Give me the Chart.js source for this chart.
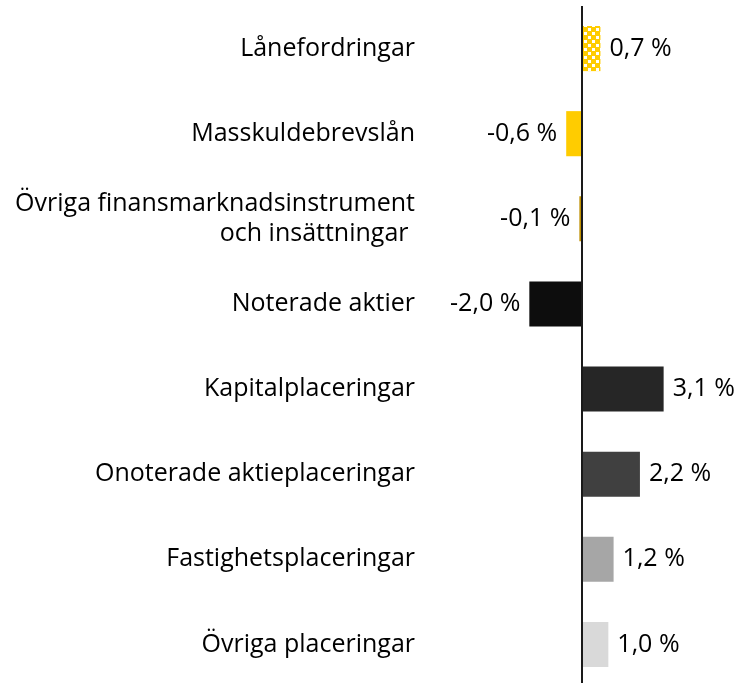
<!DOCTYPE html>
<html lang="sv">
<head>
    <meta charset="UTF-8">
    <title>Avkastning per placeringsslag</title>
    <script src="https://cdn.jsdelivr.net/npm/chart.js"></script>
    <style>
        html, body {
            margin: 0;
            padding: 0;
            background: #fff;
            overflow: hidden;
        }
        .wrap {
            position: relative;
            width: 740px;
            height: 688px;
        }
    </style>
</head>
<body>
    <div class="wrap">
        <canvas id="chart"></canvas>
    </div>
    <script>
// categories and values (percent)
const categories = [
    'Lånefordringar',
    'Masskuldebrevslån',
    ['Övriga finansmarknadsinstrument', 'och insättningar '],
    'Noterade aktier',
    'Kapitalplaceringar',
    'Onoterade aktieplaceringar',
    'Fastighetsplaceringar',
    'Övriga placeringar'
];
const values = [0.7, -0.6, -0.1, -2.0, 3.1, 2.2, 1.2, 1.0];
const colors = ['pattern', '#FFCC00', '#BF9000', '#0D0D0D', '#262626', '#404040', '#A6A6A6', '#D9D9D9'];

const FONT = '"Open Sans", Lato, sans-serif';
const FONT_SIZE = 25;

// yellow/white check for the first bar
function makePattern() {
    const c = document.createElement('canvas');
    c.width = 8;
    c.height = 8;
    const g = c.getContext('2d');
    g.fillStyle = '#FFCC00';
    g.fillRect(0, 0, 8, 8);
    g.fillStyle = '#ffffff';
    g.fillRect(0, 0, 3, 3);
    g.fillRect(4, 4, 3, 3);
    return document.getElementById('chart').getContext('2d').createPattern(c, 'repeat');
}
const pattern = makePattern();

// value labels next to each bar
const valueLabels = {
    id: 'valueLabels',
    afterDatasetsDraw(chart) {
        const ctx = chart.ctx;
        const meta = chart.getDatasetMeta(0);
        ctx.save();
        ctx.font = FONT_SIZE + 'px ' + FONT;
        ctx.fillStyle = '#000';
        ctx.textBaseline = 'middle';
        meta.data.forEach((bar, i) => {
            const v = values[i];
            const txt = v.toFixed(1).replace('.', ',') + ' %';
            if (v >= 0) {
                ctx.textAlign = 'left';
                ctx.fillText(txt, bar.x + 9, bar.y);
            } else {
                ctx.textAlign = 'right';
                ctx.fillText(txt, bar.x - 9, bar.y);
            }
        });
        ctx.restore();
    }
};

new Chart(document.getElementById('chart'), {
    type: 'bar',
    data: {
        labels: categories,
        datasets: [{
            data: values,
            backgroundColor: colors.map(c => c === 'pattern' ? pattern : c),
            borderWidth: 0,
            barPercentage: 0.53,
            categoryPercentage: 1
        }]
    },
    options: {
        indexAxis: 'y',
        responsive: true,
        maintainAspectRatio: false,
        animation: false,
        layout: { padding: { top: 6, bottom: 1, right: 0, left: 0 } },
        plugins: {
            legend: { display: false },
            tooltip: { enabled: false }
        },
        scales: {
            x: {
                min: -6,
                max: 6,
                ticks: { display: false, stepSize: 1 },
                border: { display: false },
                grid: {
                    drawTicks: false,
                    lineWidth: 2,
                    color: c => c.tick && c.tick.value === 0 ? '#1a1a1a' : 'rgba(0,0,0,0)'
                }
            },
            y: {
                border: { display: false },
                grid: { display: false, drawTicks: false },
                ticks: {
                    padding: 9,
                    color: '#000',
                    font: { family: FONT, size: FONT_SIZE, lineHeight: 1.2 }
                },
                afterFit(scale) {
                    scale.width = 424;
                    scale.paddingTop = 0;
                    scale.paddingBottom = 0;
                }
            }
        }
    },
    plugins: [valueLabels]
});
    </script>
</body>
</html>
